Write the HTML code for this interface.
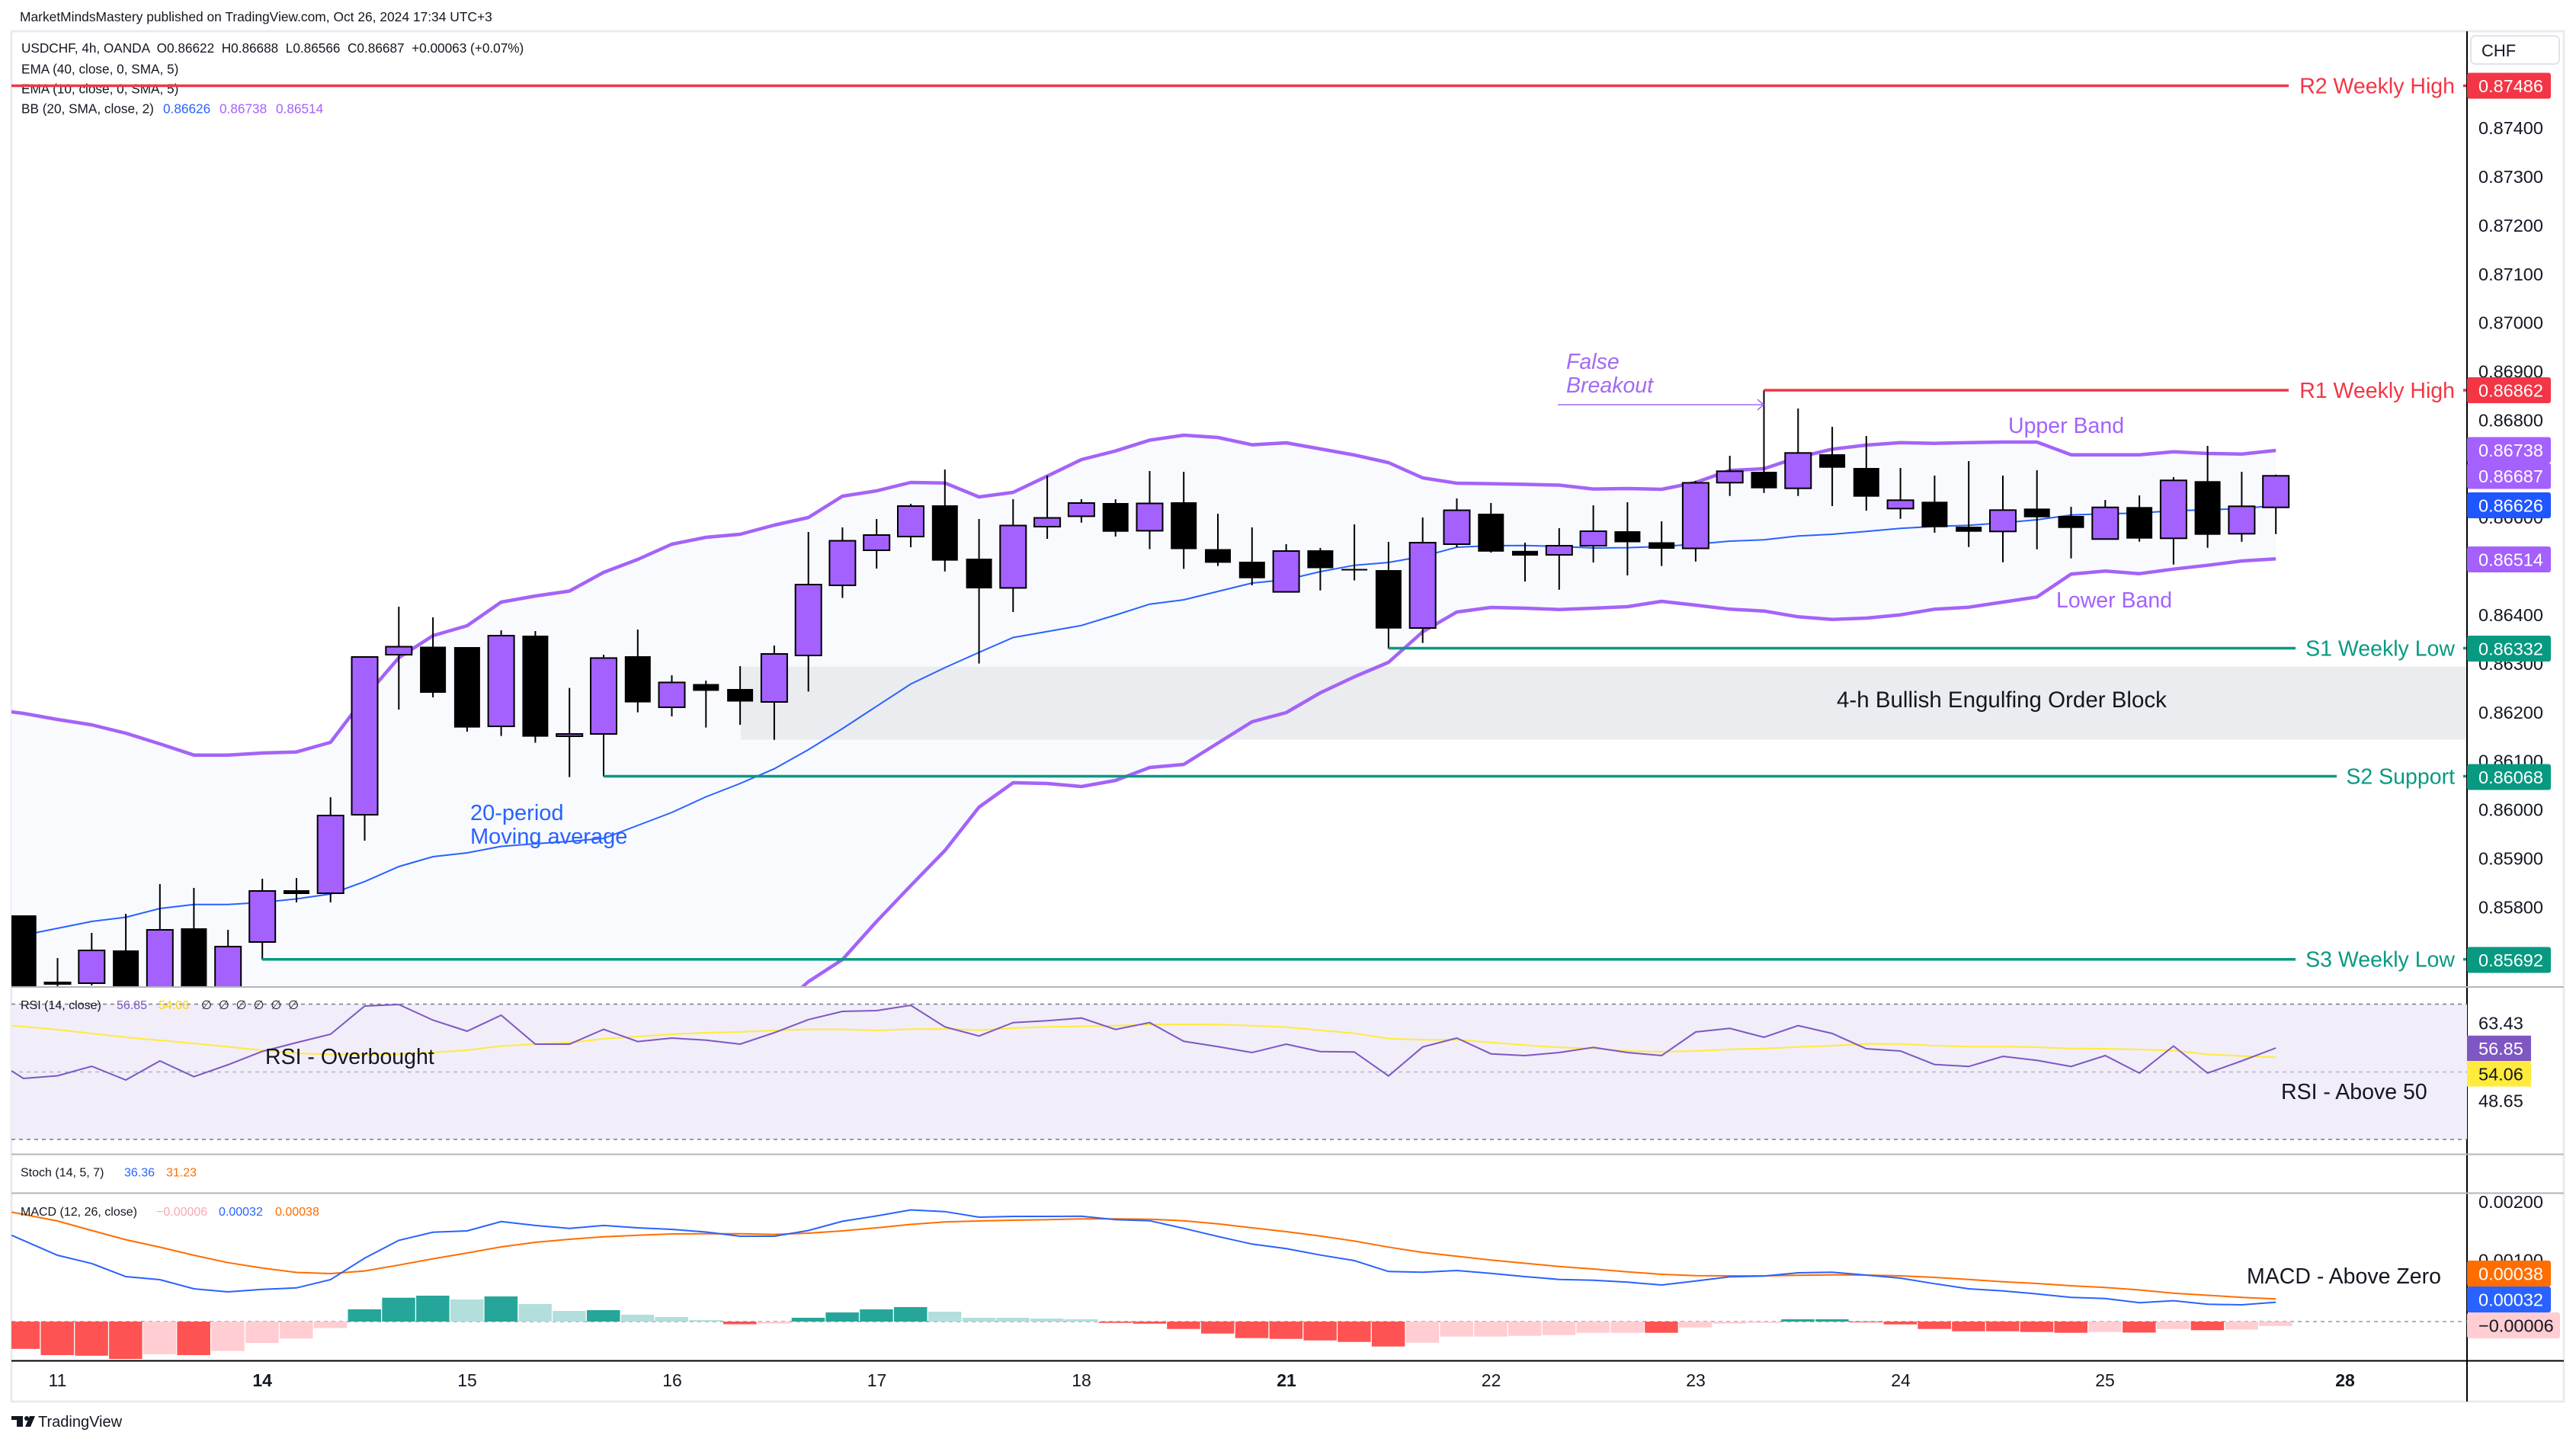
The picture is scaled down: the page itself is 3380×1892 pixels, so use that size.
<!DOCTYPE html>
<html><head><meta charset="utf-8"><style>
html,body{margin:0;padding:0;background:#fff;}
svg{display:block;}
text{font-family:"Liberation Sans",sans-serif;}
.w{stroke:#000;stroke-width:2;}
.u{fill:#a461fd;stroke:#000;stroke-width:2;}
.d{fill:#000;}
.T{fill:#26a69a}.L{fill:#b2dfdb}.R{fill:#ff5252}.P{fill:#ffcdd2}
.tk{font-size:23.5px;fill:#131722;}
.bx{font-size:23.5px;fill:#fff;}
.lg{font-size:16px;fill:#131722;}
.lt{font-size:17.2px;fill:#131722;}
.an{font-size:28.5px;}
</style></head><body>
<svg width="3380" height="1892" viewBox="0 0 3380 1892" xmlns="http://www.w3.org/2000/svg">
<defs>
<clipPath id="cm"><rect x="15" y="41" width="3222" height="1253"/></clipPath>
<clipPath id="cp"><rect x="15" y="1295" width="3222" height="490"/></clipPath>
</defs>
<rect width="3380" height="1892" fill="#fff"/>
<text x="26" y="28" style="font-size:17.4px;fill:#131722">MarketMindsMastery published on TradingView.com, Oct 26, 2024 17:34 UTC+3</text>
<rect x="15" y="41" width="3349" height="1798" fill="none" stroke="#e9ebf0" stroke-width="3"/>

<!-- MAIN PANE -->
<g clip-path="url(#cm)">
<polygon fill="#f9fafe" points="15,934 30.7,936 75.5,944 120.3,951 165.1,962 209.8,976 254.4,990.7 299.2,990.7 344.2,988 389,986.6 433.7,974 478.5,915 523.3,863 568.1,834 612.9,821 657.6,790 702.4,782 747.2,775.5 792,751 836.8,734 881.5,714 926.3,705 971.1,701 1015.9,689 1060.7,679 1105.4,651 1150.2,644 1195,633 1239.8,633.7 1284.6,652 1329.3,646 1374.1,624.7 1418.9,603 1463.7,591.7 1508.5,577.5 1553.2,571 1598,574 1642.8,583.6 1687.6,581 1732.4,589 1777.1,597 1821.9,607 1866.7,627 1911.5,634 1956.3,634.6 2001,635.5 2045.8,636.5 2090.6,641.6 2135.4,641 2180.2,642 2224.9,633 2269.7,617.3 2314.5,615 2359.3,600 2404.1,589.3 2448.8,584 2493.6,580.7 2538.4,581.7 2583.2,580.7 2628,580 2672.7,580 2717.5,596.7 2762.3,596.7 2807.1,596.7 2851.9,592.7 2896.6,595 2941.4,595.7 2986.2,591 2986.2,733.3 2941.4,736 2896.6,741.7 2851.9,746.7 2807.1,752.7 2762.3,749.3 2717.5,753.3 2672.7,783.3 2628,790 2583.2,796.7 2538.4,799.3 2493.6,806.7 2448.8,811 2404.1,812.7 2359.3,809.3 2314.5,801.7 2269.7,799.3 2224.9,794 2180.2,789 2135.4,796 2090.6,798 2045.8,799.7 2001,798 1956.3,797 1911.5,803 1866.7,829 1821.9,869 1777.1,888 1732.4,909 1687.6,935 1642.8,947 1598,975 1553.2,1003 1508.5,1007 1463.7,1024 1418.9,1032 1374.1,1028 1329.3,1027 1284.6,1059 1239.8,1116 1195,1162 1150.2,1209 1105.4,1259 1060.7,1288 1015.9,1328 971.1,1355 926.3,1400 15,1400"/>
<rect x="972" y="874.7" width="2265" height="95.8" fill="#ebecef"/>
<polyline fill="none" stroke="#a463f8" stroke-width="4.5" stroke-linejoin="round" points="15,934 30.7,936 75.5,944 120.3,951 165.1,962 209.8,976 254.4,990.7 299.2,990.7 344.2,988 389,986.6 433.7,974 478.5,915 523.3,863 568.1,834 612.9,821 657.6,790 702.4,782 747.2,775.5 792,751 836.8,734 881.5,714 926.3,705 971.1,701 1015.9,689 1060.7,679 1105.4,651 1150.2,644 1195,633 1239.8,633.7 1284.6,652 1329.3,646 1374.1,624.7 1418.9,603 1463.7,591.7 1508.5,577.5 1553.2,571 1598,574 1642.8,583.6 1687.6,581 1732.4,589 1777.1,597 1821.9,607 1866.7,627 1911.5,634 1956.3,634.6 2001,635.5 2045.8,636.5 2090.6,641.6 2135.4,641 2180.2,642 2224.9,633 2269.7,617.3 2314.5,615 2359.3,600 2404.1,589.3 2448.8,584 2493.6,580.7 2538.4,581.7 2583.2,580.7 2628,580 2672.7,580 2717.5,596.7 2762.3,596.7 2807.1,596.7 2851.9,592.7 2896.6,595 2941.4,595.7 2986.2,591"/>
<polyline fill="none" stroke="#a463f8" stroke-width="4.5" stroke-linejoin="round" points="971.1,1355 1015.9,1328 1060.7,1288 1105.4,1259 1150.2,1209 1195,1162 1239.8,1116 1284.6,1059 1329.3,1027 1374.1,1028 1418.9,1032 1463.7,1024 1508.5,1007 1553.2,1003 1598,975 1642.8,947 1687.6,935 1732.4,909 1777.1,888 1821.9,869 1866.7,829 1911.5,803 1956.3,797 2001,798 2045.8,799.7 2090.6,798 2135.4,796 2180.2,789 2224.9,794 2269.7,799.3 2314.5,801.7 2359.3,809.3 2404.1,812.7 2448.8,811 2493.6,806.7 2538.4,799.3 2583.2,796.7 2628,790 2672.7,783.3 2717.5,753.3 2762.3,749.3 2807.1,752.7 2851.9,746.7 2896.6,741.7 2941.4,736 2986.2,733.3"/>
<polyline fill="none" stroke="#2962ff" stroke-width="2" points="15,1229 30.7,1227 75.5,1218 120.3,1209 165.1,1203.5 209.8,1192 254.4,1186.7 299.2,1186.7 344.2,1184 389,1179.4 433.7,1173 478.5,1156.7 523.3,1137 568.1,1124 612.9,1119 657.6,1110.5 702.4,1107 747.2,1104 792,1100 836.8,1083 881.5,1066 926.3,1045.5 971.1,1028 1015.9,1008.7 1060.7,983.6 1105.4,956 1150.2,926.7 1195,897.5 1239.8,876 1284.6,856 1329.3,836.5 1374.1,828.6 1418.9,820.7 1463.7,807 1508.5,792.7 1553.2,787 1598,776 1642.8,765 1687.6,760.6 1732.4,750 1777.1,741.7 1821.9,738 1866.7,730 1911.5,718 1956.3,716 2001,715.7 2045.8,717 2090.6,719 2135.4,718.6 2180.2,717 2224.9,714 2269.7,710 2314.5,708.3 2359.3,703.3 2404.1,701 2448.8,697.3 2493.6,693.3 2538.4,690.7 2583.2,689.3 2628,686 2672.7,682 2717.5,675.7 2762.3,674 2807.1,673.3 2851.9,670 2896.6,669 2941.4,667.3 2986.2,663.3"/>

<!-- candles -->
<rect class="d" x="13.7" y="1201" width="34" height="99"/>
<line class="w" x1="75.5" y1="1257" x2="75.5" y2="1294"/><rect class="u" x="58.5" y="1289" width="34" height="2"/>
<line class="w" x1="120.3" y1="1224" x2="120.3" y2="1293"/><rect class="u" x="103.3" y="1247" width="34" height="43"/>
<line class="w" x1="165.1" y1="1199" x2="165.1" y2="1300"/><rect class="d" x="148.1" y="1247" width="34" height="53"/>
<line class="w" x1="209.8" y1="1160" x2="209.8" y2="1300"/><rect class="u" x="192.8" y="1220" width="34" height="80"/>
<line class="w" x1="254.4" y1="1165" x2="254.4" y2="1300"/><rect class="d" x="237.4" y="1218" width="34" height="82"/>
<line class="w" x1="299.2" y1="1220" x2="299.2" y2="1300"/><rect class="u" x="282.2" y="1242" width="34" height="58"/>
<line class="w" x1="344.2" y1="1153" x2="344.2" y2="1259"/><rect class="u" x="327.2" y="1169" width="34" height="67"/>
<line class="w" x1="389" y1="1152" x2="389" y2="1184"/><rect class="d" x="372" y="1168" width="34" height="5"/>
<line class="w" x1="433.7" y1="1046" x2="433.7" y2="1184"/><rect class="u" x="416.7" y="1070" width="34" height="102"/>
<line class="w" x1="478.5" y1="862" x2="478.5" y2="1103"/><rect class="u" x="461.5" y="862" width="34" height="207"/>
<line class="w" x1="523.3" y1="796" x2="523.3" y2="931"/><rect class="u" x="506.3" y="848.5" width="34" height="10.5"/>
<line class="w" x1="568.1" y1="810" x2="568.1" y2="915"/><rect class="d" x="551.1" y="848.5" width="34" height="60.5"/>
<line class="w" x1="612.9" y1="849" x2="612.9" y2="960"/><rect class="d" x="595.9" y="849" width="34" height="105.6"/>
<line class="w" x1="657.6" y1="827" x2="657.6" y2="965.6"/><rect class="u" x="640.6" y="834" width="34" height="119"/>
<line class="w" x1="702.4" y1="828" x2="702.4" y2="974.5"/><rect class="d" x="685.4" y="834" width="34" height="132.6"/>
<line class="w" x1="747.2" y1="902.6" x2="747.2" y2="1019.6"/><rect class="u" x="730.2" y="963" width="34" height="3"/>
<line class="w" x1="792" y1="859" x2="792" y2="1018.7"/><rect class="u" x="775" y="863.4" width="34" height="99.6"/>
<line class="w" x1="836.8" y1="826" x2="836.8" y2="934.6"/><rect class="d" x="819.8" y="861" width="34" height="60.6"/>
<line class="w" x1="881.5" y1="886" x2="881.5" y2="940"/><rect class="u" x="864.5" y="895.4" width="34" height="32.6"/>
<line class="w" x1="926.3" y1="893" x2="926.3" y2="954.6"/><rect class="d" x="909.3" y="897.5" width="34" height="8.9"/>
<line class="w" x1="971.1" y1="874" x2="971.1" y2="951"/><rect class="d" x="954.1" y="904" width="34" height="16.5"/>
<line class="w" x1="1015.9" y1="847" x2="1015.9" y2="970.8"/><rect class="u" x="998.9" y="858" width="34" height="63"/>
<line class="w" x1="1060.7" y1="698" x2="1060.7" y2="907.4"/><rect class="u" x="1043.7" y="767" width="34" height="93"/>
<line class="w" x1="1105.4" y1="692" x2="1105.4" y2="784.5"/><rect class="u" x="1088.4" y="709.5" width="34" height="58.5"/>
<line class="w" x1="1150.2" y1="681" x2="1150.2" y2="746"/><rect class="u" x="1133.2" y="702" width="34" height="20"/>
<line class="w" x1="1195" y1="661" x2="1195" y2="718"/><rect class="u" x="1178" y="664" width="34" height="40"/>
<line class="w" x1="1239.8" y1="616" x2="1239.8" y2="749.7"/><rect class="d" x="1222.8" y="663" width="34" height="72.6"/>
<line class="w" x1="1284.6" y1="681" x2="1284.6" y2="870.6"/><rect class="d" x="1267.6" y="733" width="34" height="39"/>
<line class="w" x1="1329.3" y1="655" x2="1329.3" y2="803"/><rect class="u" x="1312.3" y="689.5" width="34" height="81.9"/>
<line class="w" x1="1374.1" y1="624" x2="1374.1" y2="707"/><rect class="u" x="1357.1" y="679.5" width="34" height="11.5"/>
<line class="w" x1="1418.9" y1="655" x2="1418.9" y2="685.7"/><rect class="u" x="1401.9" y="660" width="34" height="17.4"/>
<line class="w" x1="1463.7" y1="655" x2="1463.7" y2="704"/><rect class="d" x="1446.7" y="660" width="34" height="37.7"/>
<line class="w" x1="1508.5" y1="618" x2="1508.5" y2="720.5"/><rect class="u" x="1491.5" y="660.5" width="34" height="35.9"/>
<line class="w" x1="1553.2" y1="619" x2="1553.2" y2="746.4"/><rect class="d" x="1536.2" y="659" width="34" height="61.5"/>
<line class="w" x1="1598" y1="674" x2="1598" y2="742.6"/><rect class="d" x="1581" y="720.5" width="34" height="17.9"/>
<line class="w" x1="1642.8" y1="692" x2="1642.8" y2="768"/><rect class="d" x="1625.8" y="737" width="34" height="21.7"/>
<line class="w" x1="1687.6" y1="714" x2="1687.6" y2="776.6"/><rect class="u" x="1670.6" y="723" width="34" height="53.6"/>
<line class="w" x1="1732.4" y1="719" x2="1732.4" y2="774.7"/><rect class="d" x="1715.4" y="722" width="34" height="23.5"/>
<line class="w" x1="1777.1" y1="688" x2="1777.1" y2="761.5"/><rect class="d" x="1760.1" y="746.5" width="34" height="2"/>
<line class="w" x1="1821.9" y1="711" x2="1821.9" y2="851"/><rect class="d" x="1804.9" y="748" width="34" height="76.7"/>
<line class="w" x1="1866.7" y1="679" x2="1866.7" y2="843.6"/><rect class="u" x="1849.7" y="712" width="34" height="112"/>
<line class="w" x1="1911.5" y1="654" x2="1911.5" y2="718"/><rect class="u" x="1894.5" y="669.5" width="34" height="44.5"/>
<line class="w" x1="1956.3" y1="660" x2="1956.3" y2="725"/><rect class="d" x="1939.3" y="674" width="34" height="49.8"/>
<line class="w" x1="2001" y1="712" x2="2001" y2="763"/><rect class="d" x="1984" y="722.8" width="34" height="6.2"/>
<line class="w" x1="2045.8" y1="693" x2="2045.8" y2="773.8"/><rect class="u" x="2028.8" y="716" width="34" height="12"/>
<line class="w" x1="2090.6" y1="663" x2="2090.6" y2="738"/><rect class="u" x="2073.6" y="697" width="34" height="19"/>
<line class="w" x1="2135.4" y1="659" x2="2135.4" y2="755"/><rect class="d" x="2118.4" y="697" width="34" height="14.5"/>
<line class="w" x1="2180.2" y1="684" x2="2180.2" y2="742.6"/><rect class="d" x="2163.2" y="711.5" width="34" height="8.5"/>
<line class="w" x1="2224.9" y1="631" x2="2224.9" y2="736.7"/><rect class="u" x="2207.9" y="633.5" width="34" height="86"/>
<line class="w" x1="2269.7" y1="598" x2="2269.7" y2="650.7"/><rect class="u" x="2252.7" y="618.3" width="34" height="15"/>
<line class="w" x1="2314.5" y1="511.7" x2="2314.5" y2="646.7"/><rect class="d" x="2297.5" y="619" width="34" height="21.7"/>
<line class="w" x1="2359.3" y1="536" x2="2359.3" y2="650.7"/><rect class="u" x="2342.3" y="594.3" width="34" height="46.4"/>
<line class="w" x1="2404.1" y1="560" x2="2404.1" y2="664"/><rect class="d" x="2387.1" y="596" width="34" height="17.7"/>
<line class="w" x1="2448.8" y1="572" x2="2448.8" y2="670"/><rect class="d" x="2431.8" y="614" width="34" height="37.7"/>
<line class="w" x1="2493.6" y1="614" x2="2493.6" y2="680.7"/><rect class="u" x="2476.6" y="656.3" width="34" height="11"/>
<line class="w" x1="2538.4" y1="624" x2="2538.4" y2="699"/><rect class="d" x="2521.4" y="658.3" width="34" height="33.4"/>
<line class="w" x1="2583.2" y1="605" x2="2583.2" y2="717.7"/><rect class="d" x="2566.2" y="691" width="34" height="6.7"/>
<line class="w" x1="2628" y1="624" x2="2628" y2="737.7"/><rect class="u" x="2611" y="669.3" width="34" height="28"/>
<line class="w" x1="2672.7" y1="617" x2="2672.7" y2="720.7"/><rect class="d" x="2655.7" y="667.3" width="34" height="11.4"/>
<line class="w" x1="2717.5" y1="665" x2="2717.5" y2="732.7"/><rect class="d" x="2700.5" y="677" width="34" height="15.7"/>
<line class="w" x1="2762.3" y1="656" x2="2762.3" y2="707.3"/><rect class="u" x="2745.3" y="665.7" width="34" height="41.6"/>
<line class="w" x1="2807.1" y1="650" x2="2807.1" y2="710.7"/><rect class="d" x="2790.1" y="665.3" width="34" height="41.4"/>
<line class="w" x1="2851.9" y1="626" x2="2851.9" y2="740.7"/><rect class="u" x="2834.9" y="630.3" width="34" height="76"/>
<line class="w" x1="2896.6" y1="585" x2="2896.6" y2="718.7"/><rect class="d" x="2879.6" y="631.3" width="34" height="70.4"/>
<line class="w" x1="2941.4" y1="619" x2="2941.4" y2="710.7"/><rect class="u" x="2924.4" y="664.3" width="34" height="36"/>
<line class="w" x1="2986.2" y1="622.7" x2="2986.2" y2="700.7"/><rect class="u" x="2969.2" y="624.3" width="34" height="41.4"/>
</g>

<!-- legend -->
<text class="lt" x="28" y="69" xml:space="preserve">USDCHF, 4h, OANDA  O0.86622  H0.86688  L0.86566  C0.86687  +0.00063 (+0.07%)</text>
<text class="lt" x="28" y="96.5">EMA (40, close, 0, SMA, 5)</text>
<text class="lt" x="28" y="122.5">EMA (10, close, 0, SMA, 5)</text>
<text class="lt" x="28" y="148.5">BB (20, SMA, close, 2)</text>
<text class="lt" x="214" y="148.5" style="fill:#2962ff">0.86626</text>
<text class="lt" x="288" y="148.5" style="fill:#a461fd">0.86738</text>
<text class="lt" x="362" y="148.5" style="fill:#a461fd">0.86514</text>

<!-- horizontal levels -->
<g stroke-width="3.5">
<line x1="15" y1="112.5" x2="3003" y2="112.5" stroke="#f23645"/>
<line x1="3232" y1="112.5" x2="3237" y2="112.5" stroke="#f23645"/>
<line x1="2314.5" y1="512" x2="3003" y2="512" stroke="#f23645"/>
<line x1="3232" y1="512" x2="3237" y2="512" stroke="#f23645"/>
<line x1="1822" y1="850.5" x2="3012" y2="850.5" stroke="#089981"/>
<line x1="3232" y1="850.5" x2="3237" y2="850.5" stroke="#089981"/>
<line x1="792" y1="1018.5" x2="3066" y2="1018.5" stroke="#089981"/>
<line x1="3232" y1="1018.5" x2="3237" y2="1018.5" stroke="#089981"/>
<line x1="344" y1="1258.7" x2="3012" y2="1258.7" stroke="#089981"/>
<line x1="3232" y1="1258.7" x2="3237" y2="1258.7" stroke="#089981"/>
</g>
<g class="an" text-anchor="end">
<text x="3221" y="122.5" style="fill:#f23645;font-size:28.5px">R2 Weekly High</text>
<text x="3221" y="522" style="fill:#f23645;font-size:28.5px">R1 Weekly High</text>
<text x="3221" y="860.5" style="fill:#089981;font-size:28.5px">S1 Weekly Low</text>
<text x="3221" y="1028.5" style="fill:#089981;font-size:28.5px">S2 Support</text>
<text x="3221" y="1268.7" style="fill:#089981;font-size:28.5px">S3 Weekly Low</text>
</g>

<!-- annotations -->
<text x="2055" y="484" style="font-size:28.5px;font-style:italic;fill:#a26af3">False</text>
<text x="2055" y="515" style="font-size:28.5px;font-style:italic;fill:#a26af3">Breakout</text>
<line x1="2044" y1="531" x2="2314" y2="531" stroke="#a26af3" stroke-width="1.5"/>
<polyline points="2306,524 2314,531 2306,538" fill="none" stroke="#a26af3" stroke-width="1.5"/>
<text x="2635" y="568" style="font-size:28.5px;fill:#a461fd">Upper Band</text>
<text x="2698" y="797" style="font-size:28.5px;fill:#a461fd">Lower Band</text>
<text x="2410" y="928" style="font-size:29.5px;fill:#131722">4-h Bullish Engulfing Order Block</text>
<text x="617" y="1076" style="font-size:29px;fill:#2962ff">20-period</text>
<text x="617" y="1107" style="font-size:29px;fill:#2962ff">Moving average</text>

<!-- price axis -->
<line x1="3237" y1="41" x2="3237" y2="1839" stroke="#000" stroke-width="2"/>
<rect x="3242" y="47" width="116" height="37" rx="6" fill="#fff" stroke="#e0e3eb" stroke-width="2"/>
<text x="3256" y="74" style="font-size:22px;fill:#131722">CHF</text>
<g class="tk">
<text x="3252" y="112">0.87500</text>
<text x="3252" y="176">0.87400</text>
<text x="3252" y="240">0.87300</text>
<text x="3252" y="304">0.87200</text>
<text x="3252" y="368">0.87100</text>
<text x="3252" y="431.5">0.87000</text>
<text x="3252" y="495.5">0.86900</text>
<text x="3252" y="559.5">0.86800</text>
<text x="3252" y="687">0.86600</text>
<text x="3252" y="815">0.86400</text>
<text x="3252" y="879">0.86300</text>
<text x="3252" y="943">0.86200</text>
<text x="3252" y="1006.5">0.86100</text>
<text x="3252" y="1070.5">0.86000</text>
<text x="3252" y="1134.5">0.85900</text>
<text x="3252" y="1198.5">0.85800</text>
</g>
<g>
<rect x="3237" y="95.5" width="110" height="34" rx="3" fill="#f23645"/>
<rect x="3237" y="495" width="110" height="34" rx="3" fill="#f23645"/>
<rect x="3237" y="573.5" width="110" height="34" rx="3" fill="#a461fd"/>
<rect x="3237" y="607.5" width="110" height="34" rx="3" fill="#a461fd"/>
<rect x="3237" y="646" width="110" height="34" rx="3" fill="#1f56ff"/>
<rect x="3237" y="717" width="110" height="34" rx="3" fill="#a461fd"/>
<rect x="3237" y="834" width="110" height="34" rx="3" fill="#089981"/>
<rect x="3237" y="1002.5" width="110" height="34" rx="3" fill="#089981"/>
<rect x="3237" y="1242.5" width="110" height="34" rx="3" fill="#089981"/>
</g>
<g class="bx">
<text x="3252" y="121">0.87486</text>
<text x="3252" y="520.5">0.86862</text>
<text x="3252" y="599">0.86738</text>
<text x="3252" y="633">0.86687</text>
<text x="3252" y="671.5">0.86626</text>
<text x="3252" y="742.5">0.86514</text>
<text x="3252" y="859.5">0.86332</text>
<text x="3252" y="1028">0.86068</text>
<text x="3252" y="1268">0.85692</text>
</g>

<!-- pane separators -->
<line x1="15" y1="1295" x2="3364" y2="1295" stroke="#b2b5be" stroke-width="2"/>
<line x1="15" y1="1514.5" x2="3364" y2="1514.5" stroke="#b2b5be" stroke-width="2"/>
<line x1="15" y1="1565.5" x2="3364" y2="1565.5" stroke="#b2b5be" stroke-width="2"/>
<line x1="15" y1="1785.5" x2="3364" y2="1785.5" stroke="#000" stroke-width="2"/>

<!-- RSI -->
<g clip-path="url(#cp)">
<rect x="15" y="1317.5" width="3222" height="177.5" fill="#f1edf9"/>
<line x1="15" y1="1317.5" x2="3237" y2="1317.5" stroke="#787b86" stroke-width="1.5" stroke-dasharray="5,5"/>
<line x1="15" y1="1406.5" x2="3237" y2="1406.5" stroke="#b2b5be" stroke-width="1.5" stroke-dasharray="5,5"/>
<line x1="15" y1="1495" x2="3237" y2="1495" stroke="#787b86" stroke-width="1.5" stroke-dasharray="5,5"/>
<polyline fill="none" stroke="#ffeb3b" stroke-width="2" points="15,1345.6 75.5,1351 165.1,1361 254.4,1369 344.2,1378 389,1382 433.7,1383.4 523.3,1383.4 568.1,1380.7 612.9,1378 657.6,1372.5 702.4,1370 747.2,1368 792,1363 836.8,1360 881.5,1357 926.3,1355 971.1,1354 1015.9,1352 1060.7,1350.6 1105.4,1350.6 1150.2,1352 1195,1350.3 1239.8,1350 1284.6,1351.7 1329.3,1349 1374.1,1347.3 1418.9,1346.7 1463.7,1345.7 1508.5,1344.3 1553.2,1344 1598,1344.3 1642.8,1345.7 1687.6,1347.7 1732.4,1351.7 1777.1,1355.7 1821.9,1362.7 1866.7,1364.3 1911.5,1364.3 1956.3,1367.7 2001,1371.3 2045.8,1374.3 2090.6,1375.7 2135.4,1379 2180.2,1380 2224.9,1379 2269.7,1376.7 2314.5,1375.7 2359.3,1373.7 2404.1,1372 2448.8,1369.7 2493.6,1369.7 2538.4,1372 2583.2,1373.3 2628,1373.3 2672.7,1374 2717.5,1375.7 2762.3,1376 2807.1,1377 2851.9,1378.4 2896.6,1383.4 2941.4,1385.5 2986.2,1387.3"/>
<polyline fill="none" stroke="#7e57c2" stroke-width="2" points="15,1405 30.7,1415 75.5,1411.5 120.3,1399 165.1,1417 209.8,1392 254.4,1412.7 299.2,1397 344.2,1379.5 389,1368 433.7,1357 478.5,1320 523.3,1318 568.1,1338.5 612.9,1353 657.6,1332 702.4,1370 747.2,1370 792,1350.6 836.8,1366.6 881.5,1362 926.3,1364.7 971.1,1370 1015.9,1355 1060.7,1337.8 1105.4,1327 1150.2,1326 1195,1319 1239.8,1347.3 1284.6,1359.3 1329.3,1341.7 1374.1,1339.3 1418.9,1335.7 1463.7,1350.7 1508.5,1341.7 1553.2,1366.3 1598,1373.3 1642.8,1381 1687.6,1370 1732.4,1379.7 1777.1,1380.3 1821.9,1411.7 1866.7,1373.7 1911.5,1362 1956.3,1382.7 2001,1385 2045.8,1381 2090.6,1374.3 2135.4,1381 2180.2,1385 2224.9,1354 2269.7,1349.3 2314.5,1361 2359.3,1345.7 2404.1,1356 2448.8,1376 2493.6,1379 2538.4,1396.7 2583.2,1399.3 2628,1386 2672.7,1391.3 2717.5,1399.3 2762.3,1385 2807.1,1408 2851.9,1372.5 2896.6,1408 2941.4,1392 2986.2,1375"/>
</g>
<text class="lg" x="27" y="1324">RSI (14, close)</text>
<text class="lg" x="153" y="1324" style="fill:#7e57c2">56.85</text>
<text class="lg" x="208" y="1324" style="fill:#f3d411">54.06</text>
<text class="lg" x="264" y="1324" xml:space="preserve">∅  ∅  ∅  ∅  ∅  ∅</text>
<text x="348" y="1396" style="font-size:28.5px;fill:#131722">RSI - Overbought</text>
<text x="2993" y="1442" style="font-size:28.5px;fill:#131722">RSI - Above 50</text>
<g class="tk">
<text x="3252" y="1350.5">63.43</text>
<text x="3252" y="1452.5">48.65</text>
</g>
<rect x="3237" y="1358.8" width="84" height="33.2" fill="#7e57c2"/>
<rect x="3237" y="1392" width="84" height="33.6" fill="#ffeb3b"/>
<text class="bx" x="3252" y="1384">56.85</text>
<text class="tk" x="3252" y="1417.5">54.06</text>

<!-- Stoch -->
<text class="lg" x="27" y="1543.5">Stoch (14, 5, 7)</text>
<text class="lg" x="163" y="1543.5" style="fill:#2962ff">36.36</text>
<text class="lg" x="218" y="1543.5" style="fill:#ff6d00">31.23</text>

<!-- MACD -->
<g clip-path="url(#cp)">
<line x1="15" y1="1734" x2="3237" y2="1734" stroke="#9598a1" stroke-width="1.5" stroke-dasharray="5,5"/>
<rect class="R" x="8.7" y="1734" width="43.5" height="35.8"/>
<rect class="R" x="53.5" y="1734" width="43.5" height="44"/>
<rect class="R" x="98.3" y="1734" width="43.5" height="44.8"/>
<rect class="R" x="143.1" y="1734" width="43.5" height="49"/>
<rect class="P" x="187.8" y="1734" width="43.5" height="42.9"/>
<rect class="R" x="232.4" y="1734" width="43.5" height="44"/>
<rect class="P" x="277.2" y="1734" width="43.5" height="38.6"/>
<rect class="P" x="322.2" y="1734" width="43.5" height="28"/>
<rect class="P" x="367" y="1734" width="43.5" height="22.2"/>
<rect class="P" x="411.7" y="1734" width="43.5" height="8.5"/>
<rect class="T" x="456.5" y="1717.9" width="43.5" height="16.1"/>
<rect class="T" x="501.3" y="1702.7" width="43.5" height="31.3"/>
<rect class="T" x="546.1" y="1700" width="43.5" height="34"/>
<rect class="L" x="590.9" y="1705" width="43.5" height="29"/>
<rect class="T" x="635.6" y="1701" width="43.5" height="33"/>
<rect class="L" x="680.4" y="1710.9" width="43.5" height="23.1"/>
<rect class="L" x="725.2" y="1720" width="43.5" height="14"/>
<rect class="T" x="770" y="1719" width="43.5" height="15"/>
<rect class="L" x="814.8" y="1725" width="43.5" height="9"/>
<rect class="L" x="859.5" y="1728" width="43.5" height="6"/>
<rect class="L" x="904.3" y="1732" width="43.5" height="2"/>
<rect class="R" x="949.1" y="1734" width="43.5" height="3.5"/>
<rect class="P" x="993.9" y="1734" width="43.5" height="2.7"/>
<rect class="T" x="1038.7" y="1729" width="43.5" height="5"/>
<rect class="T" x="1083.4" y="1722" width="43.5" height="12"/>
<rect class="T" x="1128.2" y="1718" width="43.5" height="16"/>
<rect class="T" x="1173" y="1715" width="43.5" height="19"/>
<rect class="L" x="1217.8" y="1721" width="43.5" height="13"/>
<rect class="L" x="1262.6" y="1729" width="43.5" height="5"/>
<rect class="L" x="1307.3" y="1729" width="43.5" height="5"/>
<rect class="L" x="1352.1" y="1730" width="43.5" height="4"/>
<rect class="L" x="1396.9" y="1731" width="43.5" height="3"/>
<rect class="R" x="1441.7" y="1734" width="43.5" height="1.7"/>
<rect class="R" x="1486.5" y="1734" width="43.5" height="2.7"/>
<rect class="R" x="1531.2" y="1734" width="43.5" height="9.7"/>
<rect class="R" x="1576" y="1734" width="43.5" height="15.7"/>
<rect class="R" x="1620.8" y="1734" width="43.5" height="21.7"/>
<rect class="R" x="1665.6" y="1734" width="43.5" height="22.7"/>
<rect class="R" x="1710.4" y="1734" width="43.5" height="24.7"/>
<rect class="R" x="1755.1" y="1734" width="43.5" height="26.7"/>
<rect class="R" x="1799.9" y="1734" width="43.5" height="32.7"/>
<rect class="P" x="1844.7" y="1734" width="43.5" height="27.7"/>
<rect class="P" x="1889.5" y="1734" width="43.5" height="19.7"/>
<rect class="P" x="1934.3" y="1734" width="43.5" height="19.7"/>
<rect class="P" x="1979" y="1734" width="43.5" height="18.7"/>
<rect class="P" x="2023.8" y="1734" width="43.5" height="17.7"/>
<rect class="P" x="2068.6" y="1734" width="43.5" height="14.7"/>
<rect class="P" x="2113.4" y="1734" width="43.5" height="14.7"/>
<rect class="R" x="2158.2" y="1734" width="43.5" height="14.7"/>
<rect class="P" x="2202.9" y="1734" width="43.5" height="7.7"/>
<rect class="P" x="2247.7" y="1734" width="43.5" height="2.7"/>
<rect class="P" x="2292.5" y="1734" width="43.5" height="1.7"/>
<rect class="T" x="2337.3" y="1731" width="43.5" height="3"/>
<rect class="T" x="2382.1" y="1731" width="43.5" height="3"/>
<rect class="R" x="2426.8" y="1734" width="43.5" height="1"/>
<rect class="R" x="2471.6" y="1734" width="43.5" height="3.7"/>
<rect class="R" x="2516.4" y="1734" width="43.5" height="9.7"/>
<rect class="R" x="2561.2" y="1734" width="43.5" height="12.7"/>
<rect class="R" x="2606" y="1734" width="43.5" height="12.7"/>
<rect class="R" x="2650.7" y="1734" width="43.5" height="13.7"/>
<rect class="R" x="2695.5" y="1734" width="43.5" height="14.7"/>
<rect class="P" x="2740.3" y="1734" width="43.5" height="13.7"/>
<rect class="R" x="2785.1" y="1734" width="43.5" height="14.4"/>
<rect class="P" x="2829.9" y="1734" width="43.5" height="9.7"/>
<rect class="R" x="2874.6" y="1734" width="43.5" height="11.3"/>
<rect class="P" x="2919.4" y="1734" width="43.5" height="10.5"/>
<rect class="P" x="2964.2" y="1734" width="43.5" height="5.8"/>
<polyline fill="none" stroke="#ff6d00" stroke-width="2" points="15,1590.3 75.5,1602 120.3,1614.5 165.1,1626.6 209.8,1636.4 254.4,1647 299.2,1656.7 344.2,1663.7 389,1669.5 433.7,1671 478.5,1667.6 523.3,1659.8 568.1,1651.6 612.9,1644 657.6,1636 702.4,1630 747.2,1626 792,1622.7 836.8,1620.7 881.5,1619 926.3,1618.8 971.1,1618.8 1015.9,1619.6 1060.7,1618 1105.4,1615 1150.2,1611 1195,1606.5 1239.8,1603.3 1284.6,1602 1329.3,1601 1374.1,1600.3 1418.9,1599.3 1463.7,1599.3 1508.5,1599.7 1553.2,1601.7 1598,1605.7 1642.8,1611 1687.6,1616 1732.4,1621.7 1777.1,1628.3 1821.9,1636.3 1866.7,1643.3 1911.5,1648.3 1956.3,1653.3 2001,1657.5 2045.8,1661.7 2090.6,1665 2135.4,1668.7 2180.2,1672 2224.9,1673.7 2269.7,1674 2314.5,1674 2359.3,1673.3 2404.1,1672.7 2448.8,1673 2493.6,1674 2538.4,1676 2583.2,1678.7 2628,1681.7 2672.7,1684 2717.5,1687 2762.3,1689.3 2807.1,1692.5 2851.9,1696.8 2896.6,1699.5 2941.4,1702.2 2986.2,1704.3"/>
<polyline fill="none" stroke="#2962ff" stroke-width="2" points="15,1620.7 75.5,1647 120.3,1657.8 165.1,1675 209.8,1679 254.4,1691 299.2,1695 344.2,1691.8 389,1689.8 433.7,1679 478.5,1650.8 523.3,1627.4 568.1,1616.8 612.9,1615 657.6,1602.8 702.4,1607.9 747.2,1611.8 792,1607.9 836.8,1611 881.5,1613 926.3,1616.5 971.1,1622 1015.9,1622 1060.7,1614.5 1105.4,1602.4 1150.2,1595.4 1195,1587.5 1239.8,1589.7 1284.6,1597 1329.3,1596 1374.1,1596 1418.9,1595.7 1463.7,1600.3 1508.5,1601.7 1553.2,1611.7 1598,1622.3 1642.8,1632.3 1687.6,1638.3 1732.4,1646.7 1777.1,1654 1821.9,1668.3 1866.7,1669.3 1911.5,1667 1956.3,1670.7 2001,1675 2045.8,1678.7 2090.6,1679.7 2135.4,1682.3 2180.2,1686 2224.9,1680.7 2269.7,1675.3 2314.5,1674.3 2359.3,1670 2404.1,1669.3 2448.8,1673 2493.6,1677 2538.4,1684.3 2583.2,1691 2628,1693.7 2672.7,1697.7 2717.5,1702.3 2762.3,1703.7 2807.1,1709.3 2851.9,1706.6 2896.6,1711.3 2941.4,1712 2986.2,1708.6"/>
</g>
<text class="lg" x="27" y="1595">MACD (12, 26, close)</text>
<text class="lg" x="205" y="1595" style="fill:#f7a8b2">−0.00006</text>
<text class="lg" x="287" y="1595" style="fill:#2962ff">0.00032</text>
<text class="lg" x="361" y="1595" style="fill:#ff6d00">0.00038</text>
<text x="2948" y="1684" style="font-size:28.5px;fill:#131722">MACD - Above Zero</text>
<text class="tk" x="3252" y="1585">0.00200</text>
<text class="tk" x="3252" y="1661.5">0.00100</text>
<rect x="3237" y="1654" width="110" height="34" rx="3" fill="#ff6d00"/>
<rect x="3237" y="1688" width="110" height="34" rx="3" fill="#2962ff"/>
<rect x="3237" y="1722" width="122" height="34" rx="3" fill="#ffcdd2"/>
<text class="bx" x="3252" y="1679.5">0.00038</text>
<text class="bx" x="3252" y="1713.5">0.00032</text>
<text class="tk" x="3252" y="1747.5">−0.00006</text>

<!-- x axis -->
<g style="font-size:23px;fill:#131722" text-anchor="middle">
<text x="75.5" y="1819">11</text>
<text x="344.2" y="1819" font-weight="bold">14</text>
<text x="613" y="1819">15</text>
<text x="882" y="1819">16</text>
<text x="1150.5" y="1819">17</text>
<text x="1419" y="1819">18</text>
<text x="1688" y="1819" font-weight="bold">21</text>
<text x="1956.6" y="1819">22</text>
<text x="2225" y="1819">23</text>
<text x="2494" y="1819">24</text>
<text x="2762" y="1819">25</text>
<text x="3077" y="1819" font-weight="bold">28</text>
</g>

<!-- TradingView logo -->
<rect x="15" y="1858" width="15" height="5" fill="#131722"/>
<rect x="22" y="1858" width="8" height="14" fill="#131722"/>
<circle cx="35" cy="1861" r="3" fill="#131722"/>
<polygon points="39,1858 46,1858 40,1872 33,1872" fill="#131722"/>
<text x="50" y="1872" style="font-size:20px;fill:#131722">TradingView</text>
</svg>
</body></html>
